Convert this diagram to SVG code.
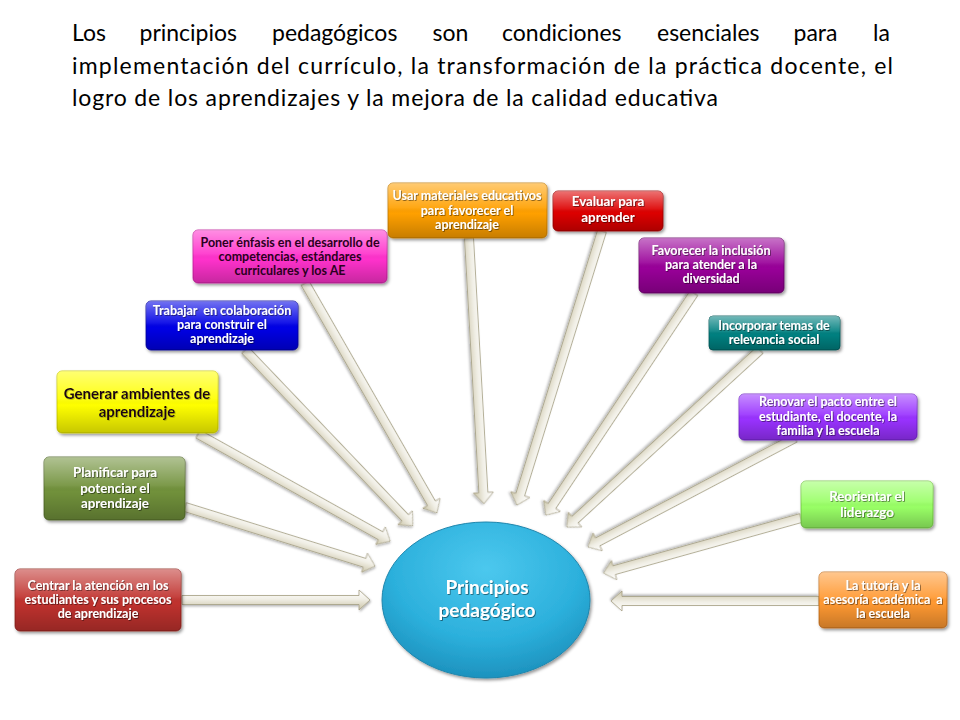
<svg xmlns="http://www.w3.org/2000/svg" width="960" height="720" viewBox="0 0 960 720">
<defs>
  <linearGradient id="gloss" x1="0" y1="0" x2="0" y2="1">
    <stop offset="0" stop-color="#fff" stop-opacity="0.45"/>
    <stop offset="0.45" stop-color="#fff" stop-opacity="0.08"/>
    <stop offset="0.55" stop-color="#000" stop-opacity="0"/>
    <stop offset="1" stop-color="#000" stop-opacity="0.22"/>
  </linearGradient>
  <linearGradient id="arrowFill" x1="0" y1="0" x2="0" y2="1">
    <stop offset="0" stop-color="#ffffff"/>
    <stop offset="0.45" stop-color="#f1efe6"/>
    <stop offset="1" stop-color="#c9c3a6"/>
  </linearGradient>
  <radialGradient id="ellFill" cx="0.5" cy="0.3" r="0.75">
    <stop offset="0" stop-color="#4cc8ee"/>
    <stop offset="0.6" stop-color="#2cb0dc"/>
    <stop offset="1" stop-color="#1a8cb8"/>
  </radialGradient>
  <filter id="shadow" x="-10%" y="-10%" width="130%" height="140%">
    <feDropShadow dx="1.5" dy="2" stdDeviation="1.6" flood-color="#000" flood-opacity="0.4"/>
  </filter>
  <filter id="ashadow" x="-10%" y="-50%" width="120%" height="200%">
    <feDropShadow dx="1" dy="1.5" stdDeviation="1.2" flood-color="#000" flood-opacity="0.3"/>
  </filter>
  <filter id="tshadow" x="-5%" y="-20%" width="110%" height="150%">
    <feDropShadow dx="0.8" dy="0.8" stdDeviation="0.5" flood-color="#000" flood-opacity="0.55"/>
  </filter>
  <filter id="tshadowY" x="-5%" y="-20%" width="110%" height="150%">
    <feDropShadow dx="0.8" dy="0.8" stdDeviation="0.7" flood-color="#8a8a00" flood-opacity="0.6"/>
  </filter>
</defs>
<style>
  .title { font-family: Lato, "Liberation Sans", sans-serif; font-size: 23px; fill: #000; }
  .box { stroke-width: 0.8; filter: url(#shadow); }
  .gl { fill: url(#gloss); }
  .bt { font-family: Lato, "Liberation Sans", sans-serif; font-weight: bold; font-size: 12.5px; fill: #fff; text-anchor: middle; filter: url(#tshadow); white-space: pre; }
  .bt13 { font-size: 13.3px; }
  .dark { fill: #1a0014; filter: url(#tshadowY); }
  .pink { fill: #2a0020; filter: none; }
  .arr { fill: url(#arrowFill); stroke: #a39d82; stroke-width: 0.8; stroke-linejoin: miter; filter: url(#ashadow); }
  .ct { font-family: Lato, "Liberation Sans", sans-serif; font-weight: bold; font-size: 19px; fill: #fff; text-anchor: middle; filter: url(#tshadow); }
</style>

<g id="title">
  <text class="title" y="41"><tspan x="72">Los</tspan><tspan x="139.5">principios</tspan><tspan x="272">pedagógicos</tspan><tspan x="432.5">son</tspan><tspan x="502">condiciones</tspan><tspan x="657">esenciales</tspan><tspan x="793.5">para</tspan><tspan x="873">la</tspan></text>
  <text class="title" x="72" y="74" textLength="821" lengthAdjust="spacing">implementación del currículo, la transformación de la práctica docente, el</text>
  <text class="title" x="72" y="106" textLength="646" lengthAdjust="spacing">logro de los aprendizajes y la mejora de la calidad educativa</text>
</g>

<g id="connectors">
  <path class="arr" transform="translate(182,600) rotate(0)" d="M0,-4.5H177V-10L188,0L177,10V4.5H0Z"/>
  <path class="arr" transform="translate(185,507) rotate(17.25)" d="M0,-4.5H188V-10L199,0L188,10V4.5H0Z"/>
  <path class="arr" transform="translate(198,434) rotate(29.13)" d="M0,-4.5H209V-10L220,0L209,10V4.5H0Z"/>
  <path class="arr" transform="translate(245,350) rotate(46.33)" d="M0,-4.5H232V-10L243,0L232,10V4.5H0Z"/>
  <path class="arr" transform="translate(305,283) rotate(60.14)" d="M0,-4.5H254V-10L265,0L254,10V4.5H0Z"/>
  <path class="arr" transform="translate(469,238) rotate(86.77)" d="M0,-4.5H255V-10L266,0L255,10V4.5H0Z"/>
  <path class="arr" transform="translate(602,231) rotate(107.23)" d="M0,-4.5H276V-10L287,0L276,10V4.5H0Z"/>
  <path class="arr" transform="translate(694,293) rotate(123.69)" d="M0,-4.5H256V-10L267,0L256,10V4.5H0Z"/>
  <path class="arr" transform="translate(760,350) rotate(137.48)" d="M0,-4.5H251V-10L262,0L251,10V4.5H0Z"/>
  <path class="arr" transform="translate(795,438) rotate(152.23)" d="M0,-4.5H223V-10L234,0L223,10V4.5H0Z"/>
  <path class="arr" transform="translate(801,518) rotate(164.4)" d="M0,-4.5H194V-10L205,0L194,10V4.5H0Z"/>
  <path class="arr" transform="translate(819,601) rotate(180)" d="M0,-4.5H197V-10L208,0L197,10V4.5H0Z"/>
</g>

<g id="center">
  <ellipse cx="486" cy="600" rx="104" ry="78" fill="url(#ellFill)" stroke="#1f86ad" stroke-width="1" filter="url(#shadow)"/>
  <text class="ct" x="487" y="594">Principios</text>
  <text class="ct" x="487" y="617">pedagógico</text>
</g>

<g id="n1">
  <rect class="box" x="15" y="569" width="166" height="62" rx="5" fill="#c0302e" stroke="#8e2220"/>
  <rect class="gl" x="15" y="569" width="166" height="62" rx="5"/>
  <text class="bt" x="98" y="590">Centrar la atención en los</text>
  <text class="bt" x="98" y="604">estudiantes y sus procesos</text>
  <text class="bt" x="98" y="618">de aprendizaje</text>
</g>

<g id="n2">
  <rect class="box" x="44" y="457" width="141" height="63" rx="5" fill="#71913a" stroke="#4f6628"/>
  <rect class="gl" x="44" y="457" width="141" height="63" rx="5"/>
  <text class="bt bt13" x="115" y="477">Planificar para</text>
  <text class="bt bt13" x="115" y="492.5">potenciar el</text>
  <text class="bt bt13" x="115" y="508">aprendizaje</text>
</g>

<g id="n3">
  <rect class="box" x="57" y="371" width="161" height="62" rx="5" fill="#ffff00" stroke="#c8c800"/>
  <rect class="gl" x="57" y="371" width="161" height="62" rx="5"/>
  <text class="bt dark" x="137" y="399" style="font-size:15px">Generar ambientes de</text>
  <text class="bt dark" x="137" y="417" style="font-size:15px">aprendizaje</text>
</g>

<g id="n4">
  <rect class="box" x="146" y="301" width="152" height="49" rx="5" fill="#0000e6" stroke="#00009a"/>
  <rect class="gl" x="146" y="301" width="152" height="49" rx="5"/>
  <text class="bt" x="222" y="315">Trabajar  en colaboración</text>
  <text class="bt" x="222" y="329">para construir el</text>
  <text class="bt" x="222" y="343">aprendizaje</text>
</g>

<g id="n5">
  <rect class="box" x="193" y="230" width="194" height="53" rx="5" fill="#ff33cc" stroke="#c0209a"/>
  <rect class="gl" x="193" y="230" width="194" height="53" rx="5"/>
  <text class="bt pink" x="290" y="247">Poner énfasis en el desarrollo de</text>
  <text class="bt pink" x="290" y="261">competencias, estándares</text>
  <text class="bt pink" x="290" y="275">curriculares y los AE</text>
</g>

<g id="n6">
  <rect class="box" x="388" y="183" width="159" height="55" rx="5" fill="#ffa000" stroke="#c07800"/>
  <rect class="gl" x="388" y="183" width="159" height="55" rx="5"/>
  <text class="bt" x="467" y="200">Usar materiales educativos</text>
  <text class="bt" x="467" y="215">para favorecer el</text>
  <text class="bt" x="467" y="229">aprendizaje</text>
</g>

<g id="n7">
  <rect class="box" x="553" y="191" width="110" height="40" rx="5" fill="#dd0000" stroke="#990000"/>
  <rect class="gl" x="553" y="191" width="110" height="40" rx="5"/>
  <text class="bt bt13" x="608" y="206">Evaluar para</text>
  <text class="bt bt13" x="608" y="222">aprender</text>
</g>

<g id="n8">
  <rect class="box" x="639" y="238" width="145" height="55" rx="5" fill="#990099" stroke="#660066"/>
  <rect class="gl" x="639" y="238" width="145" height="55" rx="5"/>
  <text class="bt" x="711" y="255">Favorecer la inclusión</text>
  <text class="bt" x="711" y="269">para atender a la</text>
  <text class="bt" x="711" y="283">diversidad</text>
</g>

<g id="n9">
  <rect class="box" x="709" y="316" width="131" height="34" rx="4" fill="#008080" stroke="#005858"/>
  <rect class="gl" x="709" y="316" width="131" height="34" rx="4"/>
  <text class="bt" x="774" y="330">Incorporar temas de</text>
  <text class="bt" x="774" y="344">relevancia social</text>
</g>

<g id="n10">
  <rect class="box" x="739" y="394" width="178" height="46" rx="5" fill="#9933ff" stroke="#6a1fc0"/>
  <rect class="gl" x="739" y="394" width="178" height="46" rx="5"/>
  <text class="bt" x="828" y="406">Renovar el pacto entre el</text>
  <text class="bt" x="828" y="421">estudiante, el docente, la</text>
  <text class="bt" x="828" y="435">familia y la escuela</text>
</g>

<g id="n11">
  <rect class="box" x="801" y="481" width="132" height="47" rx="5" fill="#99ff66" stroke="#70c040"/>
  <rect class="gl" x="801" y="481" width="132" height="47" rx="5"/>
  <text class="bt bt13" x="867" y="501">Reorientar el</text>
  <text class="bt bt13" x="867" y="517">liderazgo</text>
</g>

<g id="n12">
  <rect class="box" x="819" y="572" width="128" height="56" rx="5" fill="#ff9933" stroke="#c06a1a"/>
  <rect class="gl" x="819" y="572" width="128" height="56" rx="5"/>
  <text class="bt" x="883" y="590">La tutoría y la</text>
  <text class="bt" x="883" y="604">asesoría académica  a</text>
  <text class="bt" x="883" y="618">la escuela</text>
</g>
</svg>
